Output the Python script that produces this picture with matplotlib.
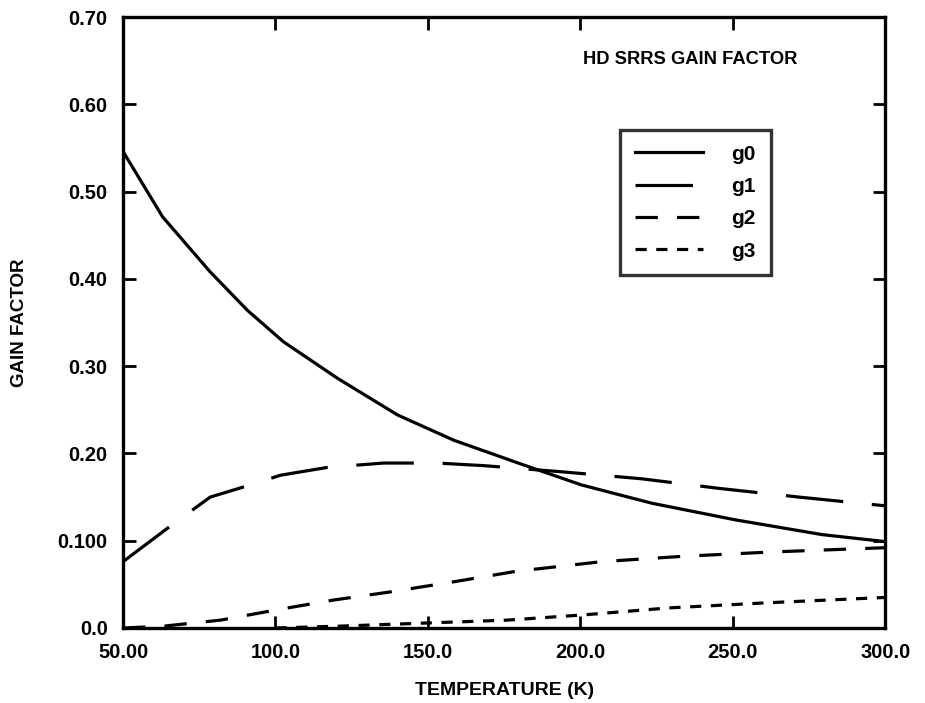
import matplotlib
matplotlib.use("Agg")
import matplotlib.pyplot as plt

plt.rcParams['font.family'] = ['Liberation Sans', 'DejaVu Sans']
plt.rcParams['font.weight'] = 'bold'

# Data
g0_T = [50, 63, 78.6, 90.8, 102.6, 120.4, 140.1, 158.6, 174, 179.6, 200.3, 223.4, 250.7, 279.3, 300]
g0_y = [0.546, 0.471, 0.408, 0.364, 0.328, 0.286, 0.244, 0.215, 0.196, 0.189, 0.164, 0.143, 0.124, 0.107, 0.099]

g1_T = [50, 66, 78.6, 91.8, 101.6, 117, 135.5, 153, 168.4, 193.8, 220, 245.4, 271.7, 300]
g1_y = [0.076, 0.118, 0.150, 0.164, 0.175, 0.184, 0.189, 0.189, 0.186, 0.179, 0.171, 0.160, 0.150, 0.140]

g2_T = [50, 63, 82, 100.7, 119, 137, 158.6, 179, 207, 233, 262, 300]
g2_y = [0.0, 0.002, 0.009, 0.021, 0.032, 0.041, 0.053, 0.065, 0.076, 0.082, 0.087, 0.092]

g3_T = [100, 120, 152, 176, 201, 229, 262, 300]
g3_y = [0.0, 0.002, 0.006, 0.009, 0.015, 0.023, 0.029, 0.035]

x_ticks = [50, 100, 150, 200, 250, 300]
x_labels = ['50.00', '100.0', '150.0', '200.0', '250.0', '300.0']
y_ticks = [0.0, 0.1, 0.2, 0.3, 0.4, 0.5, 0.6, 0.7]
y_labels = ['0.0', '0.100', '0.20', '0.30', '0.40', '0.50', '0.60', '0.70']

series_names = ['g0', 'g1', 'g2', 'g3']

fig = plt.figure(figsize=(9.25, 7.03), dpi=100)
ax = fig.add_axes([0.133, 0.1067, 0.824, 0.869])

lw = 2.3
ax.plot(g0_T, g0_y, color='black', lw=lw, linestyle='-', label=series_names[0])
ax.plot(g1_T, g1_y, color='black', lw=lw, linestyle=(0, (18, 9)), label=series_names[1])
ax.plot(g2_T, g2_y, color='black', lw=lw, linestyle=(0, (7, 6)), label=series_names[2])
ax.plot(g3_T, g3_y, color='black', lw=lw, linestyle=(0, (3.5, 3)), label=series_names[3])

ax.set_xlim(50, 300)
ax.set_ylim(0, 0.7)
ax.set_xticks(x_ticks)
ax.set_xticklabels(x_labels)
ax.set_yticks(y_ticks)
ax.set_yticklabels(y_labels)

for s in ax.spines.values():
    s.set_linewidth(2.4)
ax.tick_params(direction='in', length=9, width=2, top=True, right=True,
               labelsize=14.5)
ax.tick_params(axis='x', pad=11)
ax.tick_params(axis='y', pad=11)

ax.set_xlabel('TEMPERATURE (K)', fontsize=14, fontweight='bold', labelpad=14)
ax.set_ylabel('GAIN FACTOR', fontsize=13.5, fontweight='bold', labelpad=21)

ax.text(201, 0.651, 'HD SRRS GAIN FACTOR', fontsize=13.2, fontweight='bold',
        ha='left', va='center')

leg = ax.legend(loc='upper left', bbox_to_anchor=(0.652, 0.815), frameon=True,
                fancybox=False, edgecolor='black', fontsize=15,
                handlelength=3.3, handletextpad=1.35, labelspacing=0.64,
                borderpad=0.7, borderaxespad=0.0)
leg.get_frame().set_linewidth(2.4)

fig.savefig('out.png', dpi=100)
